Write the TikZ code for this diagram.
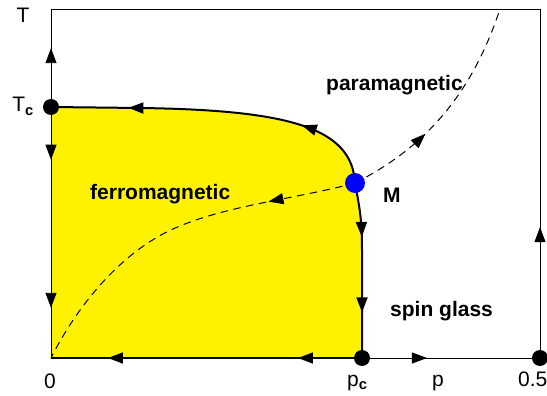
\documentclass[tikz,border=0pt]{standalone}
\usepackage{fontspec}
\setmainfont{Liberation Sans}
\usetikzlibrary{arrows.meta,decorations.markings}

\begin{document}
\begin{tikzpicture}[
    x=1pt, y=-1pt,
    font=\fontsize{21}{25}\selectfont,
    region/.style={font=\fontsize{21}{25}\selectfont\bfseries, inner sep=0pt},
    tick/.style={inner sep=0pt},
    fixpt/.style={circle, fill=black, minimum size=16pt, inner sep=0pt},
    unstable/.style={circle, fill=blue, minimum size=20pt, inner sep=0pt},
    axis/.style={line width=0.9pt},
    border/.style={line width=2pt},
    sep/.style={line width=1pt, dash pattern=on 7.5pt off 5.5pt},
    flow/.style={postaction={decorate, decoration={markings,
        mark=at position #1 with {\arrow{Triangle[length=15pt,width=11pt]}}}}}
]
\useasboundingbox (0,0) rectangle (547,396);

% corners and fixed points
\coordinate (O) at (51,358);
\coordinate (Ttop) at (51,9);
\coordinate (Rtop) at (540,9);
\coordinate (exit) at (500,9);
\coordinate (tc) at (51,107);
\coordinate (m) at (355,183);
\coordinate (pc) at (362,358);
\coordinate (hp) at (540,358);

% ferromagnetic phase
\fill[yellow] (tc) -- (140,108) .. controls (290,110) and (352,128) .. (m)
  .. controls (360,210) and (362,220) .. (362,250) -- (pc) -- (O) -- cycle;

% frame and flows
\draw[axis, flow=0.60] (tc) -- (Ttop);
\draw[axis] (Ttop) -- (Rtop);
\draw[axis, flow=0.375] (hp) -- (Rtop);
\draw[axis, flow=0.21, flow=0.80] (tc) -- (O);
\draw[axis, line width=1.4pt, flow=0.206, flow=0.817] (pc) -- (O);
\draw[axis, flow=0.365] (pc) -- (hp);

% phase boundary
\draw[border, flow=0.25, flow=0.77] (m) .. controls (352,128) and (290,110) .. (140,108) -- (tc);
\draw[border, flow=0.31, flow=0.74] (m) .. controls (360,210) and (362,220) .. (362,250) -- (pc);

% separatrix through M
\draw[sep, flow=0.24] (m) .. controls (300,198) and (230,205) .. (180,226)
  .. controls (120,250) and (75,310) .. (O);
\draw[sep, flow=0.37] (m) .. controls (420,150) and (470,100) .. (exit);

\node[fixpt] (Tc) at (tc) {};
\node[unstable] (M) at (m) {};
\node[fixpt] (Pc) at (pc) {};
\node[fixpt] (Half) at (hp) {};

% labels
\node[tick, anchor=base] (Tlab) at (23,23) {T};
\node[tick, anchor=base east] (Tclab) at (34,112) {T\textsubscript{\textbf{c}}};
\node[tick, anchor=base] (zero) at (50,388) {0};
\node[tick, anchor=base west] (pclab) at (347,386) {p\textsubscript{\textbf{c}}};
\node[tick, anchor=base] (plab) at (438,386) {p};
\node[tick, anchor=base west] (halflab) at (518,386) {0.5};
\node[region, anchor=base west] (ferro) at (90,200) {ferromagnetic};
\node[region, anchor=base west] (para) at (326,91) {paramagnetic};
\node[region, anchor=base west] (Mlab) at (383,202) {M};
\node[region, anchor=base west] (sg) at (390,316) {spin glass};
\end{tikzpicture}
\end{document}
